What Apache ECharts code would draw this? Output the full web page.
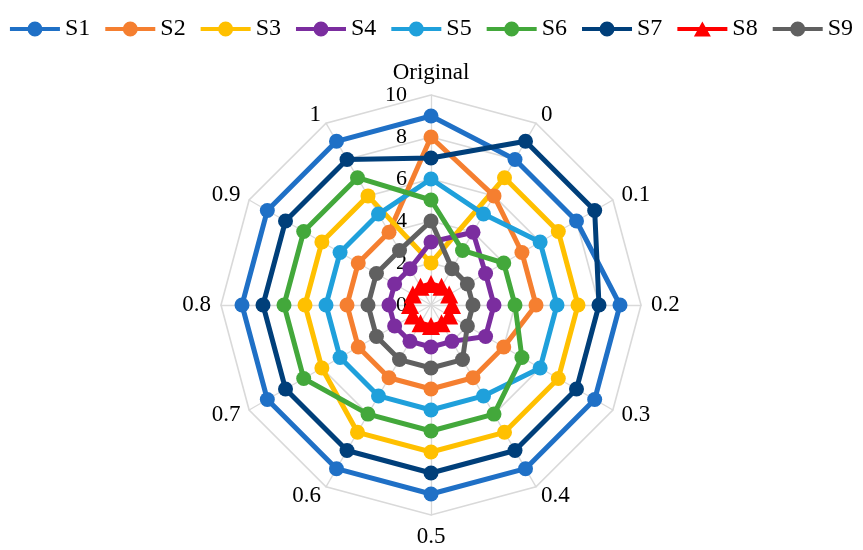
<!DOCTYPE html>
<html>
<head>
<meta charset="utf-8">
<script src="https://cdn.jsdelivr.net/npm/echarts@6/dist/echarts.min.js"></script>
<style>
  html, body { margin: 0; padding: 0; background: #fff; }
  #chart { width: 863px; height: 550px; }
</style>
</head>
<body>
<div id="chart"></div>
<script>
// Spoke labels, listed clockwise from the top
const categories = ['Original', '0', '0.1', '0.2', '0.3', '0.4', '0.5', '0.6', '0.7', '0.8', '0.9', '1'];
const axisMax = 10;
const axisSplits = 5; // rings at 0, 2, 4, 6, 8, 10

const seriesNames = ['S1', 'S2', 'S3', 'S4', 'S5', 'S6', 'S7', 'S8', 'S9'];
const s1 = [9, 8, 8, 9, 9, 9, 9, 9, 9, 9, 9, 9];
const s2 = [8, 6, 5, 5, 4, 4, 4, 4, 4, 4, 4, 4];
const s3 = [2, 7, 7, 7, 7, 7, 7, 7, 6, 6, 6, 6];
const s4 = [3, 4, 3, 3, 3, 2, 2, 2, 2, 2, 2, 2];
const s5 = [6, 5, 6, 6, 6, 5, 5, 5, 5, 5, 5, 5];
const s6 = [5, 3, 4, 4, 5, 6, 6, 6, 7, 7, 7, 7];
const s7 = [7, 9, 9, 8, 8, 8, 8, 8, 8, 8, 8, 8];
const s8 = [1, 1, 1, 1, 1, 1, 1, 1, 1, 1, 1, 1];
const s9 = [4, 2, 2, 2, 2, 3, 3, 3, 3, 3, 3, 3];

const seriesValues = [s1, s2, s3, s4, s5, s6, s7, s8, s9];
const seriesColors = ['#1f70c6', '#f57f30', '#ffc000', '#7b2d9f', '#1fa0db', '#43a83b', '#003f7a', '#ff0000', '#606060'];
const seriesSymbols = ['circle', 'circle', 'circle', 'circle', 'circle', 'circle', 'circle', 'triangle', 'circle'];

const FONT = "'Liberation Serif', 'Times New Roman', serif";

// ECharts lays radar spokes out counter-clockwise; reorder so they read clockwise.
const order = [0].concat(categories.slice(1).map((_, i) => categories.length - 1 - i));
const reorder = arr => order.map(i => arr[i]);

const lineIcon = 'path://M0,5.5L50,5.5L50,9.5L0,9.5Z M25,0A7.5,7.5 0 1 1 25,15A7.5,7.5 0 1 1 25,0Z';
const triIcon = 'path://M0,5.5L50,5.5L50,9.5L0,9.5Z M25,0L33.5,15L16.5,15Z';

const indicators = reorder(categories).map((name, i) => {
  const ind = { name: name, min: 0, max: axisMax };
  if (i === 0) ind.axisLabel = { show: true };
  return ind;
});

const chart = echarts.init(document.getElementById('chart'), null, { renderer: 'canvas' });

chart.setOption({
  animation: false,
  backgroundColor: '#fff',
  textStyle: { fontFamily: FONT },
  legend: {
    left: 'center',
    top: 12,
    itemWidth: 50,
    itemHeight: 15,
    itemGap: 15,
    itemStyle: { borderWidth: 0 },
    textStyle: { fontFamily: FONT, fontSize: 24, color: '#000' },
    data: seriesNames.map((n, i) => ({ name: n, icon: seriesSymbols[i] === 'triangle' ? triIcon : lineIcon }))
  },
  radar: {
    center: [431, 305],
    radius: 210,
    startAngle: 90,
    shape: 'polygon',
    splitNumber: axisSplits,
    nameGap: 10,
    axisName: { color: '#000', fontSize: 23, fontFamily: FONT },
    axisLine: { show: true, lineStyle: { color: '#d9d9d9', width: 1.3 } },
    splitLine: { show: true, lineStyle: { color: '#d9d9d9', width: 1.6 } },
    splitArea: { show: false },
    axisTick: { show: false },
    axisLabel: { show: false, color: '#000', fontSize: 22, fontFamily: FONT, margin: 24 },
    indicator: indicators
  },
  series: seriesNames.map((n, i) => ({
    name: n,
    type: 'radar',
    symbol: seriesSymbols[i],
    symbolSize: seriesSymbols[i] === 'triangle' ? 18 : 15,
    lineStyle: { color: seriesColors[i], width: 5 },
    itemStyle: { color: seriesColors[i] },
    emphasis: { disabled: true },
    data: [{ name: n, value: reorder(seriesValues[i]) }]
  }))
});
</script>
</body>
</html>
